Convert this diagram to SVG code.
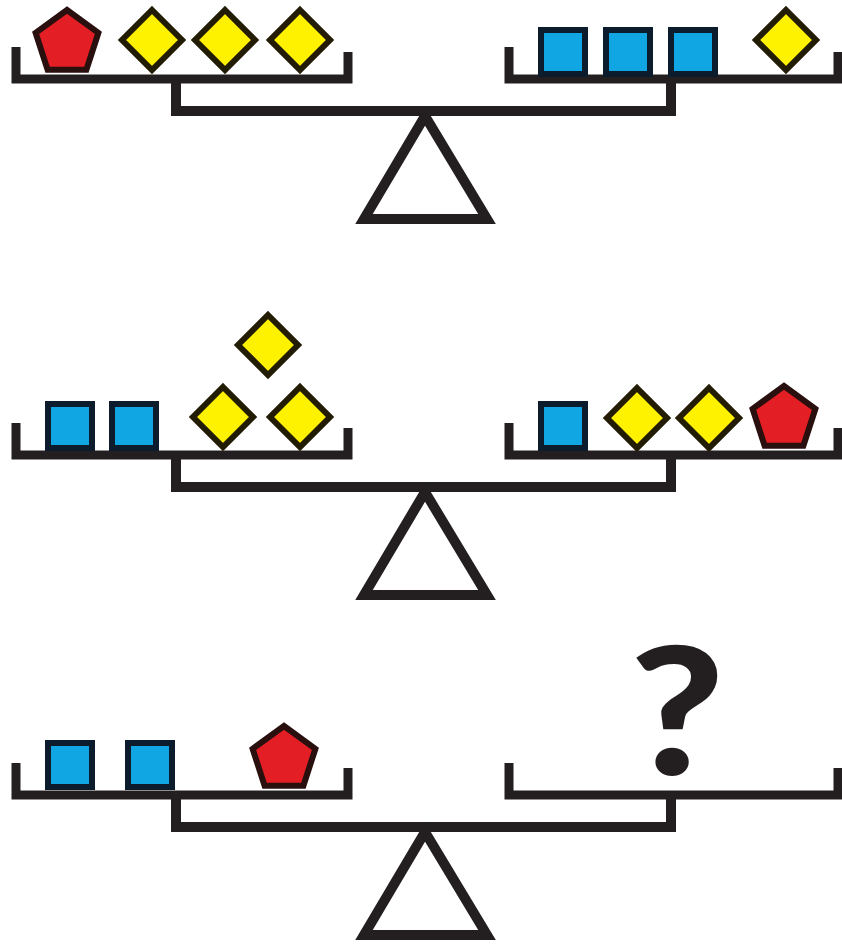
<svg xmlns="http://www.w3.org/2000/svg" xmlns:xlink="http://www.w3.org/1999/xlink" width="842" height="949" viewBox="0 0 842 949">
<style>
.ln{fill:none;stroke:#231f20;stroke-width:9;stroke-linecap:butt;stroke-linejoin:miter}
.beam{fill:none;stroke:#231f20;stroke-width:10;stroke-linejoin:miter}
.tri{fill:#fff;stroke:#231f20;stroke-width:10;stroke-linejoin:miter}
.pent{fill:#e31e24;stroke:#2a0f0f;stroke-width:6;stroke-linejoin:miter}
.dia{fill:#fff200;stroke:#231c05;stroke-width:6;stroke-linejoin:miter}
.sq{fill:#0fa6e3;stroke:#0d1c2c;stroke-width:6}
.q{font-family:Lato,"Liberation Sans",sans-serif;font-weight:900;font-size:178px;fill:#231f20}
</style>
<defs>
<polygon id="pentagon" class="pent" points="0,-33 31.4,-10.2 19.4,26.7 -19.4,26.7 -31.4,-10.2"/>
<polygon id="diamond" class="dia" points="0,-30 30,0 0,30 -30,0"/>
<rect id="square" class="sq" x="-22" y="-22" width="44" height="44"/>
<g id="balance">
<path class="beam" d="M176,79 V111 H671 V79"/>
<polygon class="tri" points="425,116 364,219 487,219"/>
<path class="ln" d="M16,47 V79 H348 V52"/>
<path class="ln" d="M509,47 V79 H838 V52"/>
</g>
</defs>
<rect width="842" height="949" fill="#fff"/>
<g id="scale1">
<use xlink:href="#balance"/>
<use xlink:href="#pentagon" x="67" y="43"/>
<use xlink:href="#diamond" x="152" y="40"/>
<use xlink:href="#diamond" x="225" y="40"/>
<use xlink:href="#diamond" x="300" y="40"/>
<use xlink:href="#square" x="563" y="52"/>
<use xlink:href="#square" x="628" y="52"/>
<use xlink:href="#square" x="693" y="52"/>
<use xlink:href="#diamond" x="786" y="40"/>
</g>
<g id="scale2" transform="translate(0,376)">
<use xlink:href="#balance"/>
<use xlink:href="#square" x="70" y="50"/>
<use xlink:href="#square" x="134" y="50"/>
<use xlink:href="#diamond" x="223" y="41"/>
<use xlink:href="#diamond" x="300" y="41"/>
<use xlink:href="#diamond" x="268" y="-31"/>
<use xlink:href="#square" x="563" y="50"/>
<use xlink:href="#diamond" x="637" y="42"/>
<use xlink:href="#diamond" x="709" y="42"/>
<use xlink:href="#pentagon" x="784" y="43"/>
</g>
<g id="scale3" transform="translate(0,716)">
<use xlink:href="#balance"/>
<use xlink:href="#square" x="70" y="49"/>
<use xlink:href="#square" x="150" y="49"/>
<use xlink:href="#pentagon" x="284" y="43"/>
</g>
<text id="question" class="q" transform="translate(677,775) scale(1.15,1)" x="0" y="0" text-anchor="middle">?</text>
</svg>
